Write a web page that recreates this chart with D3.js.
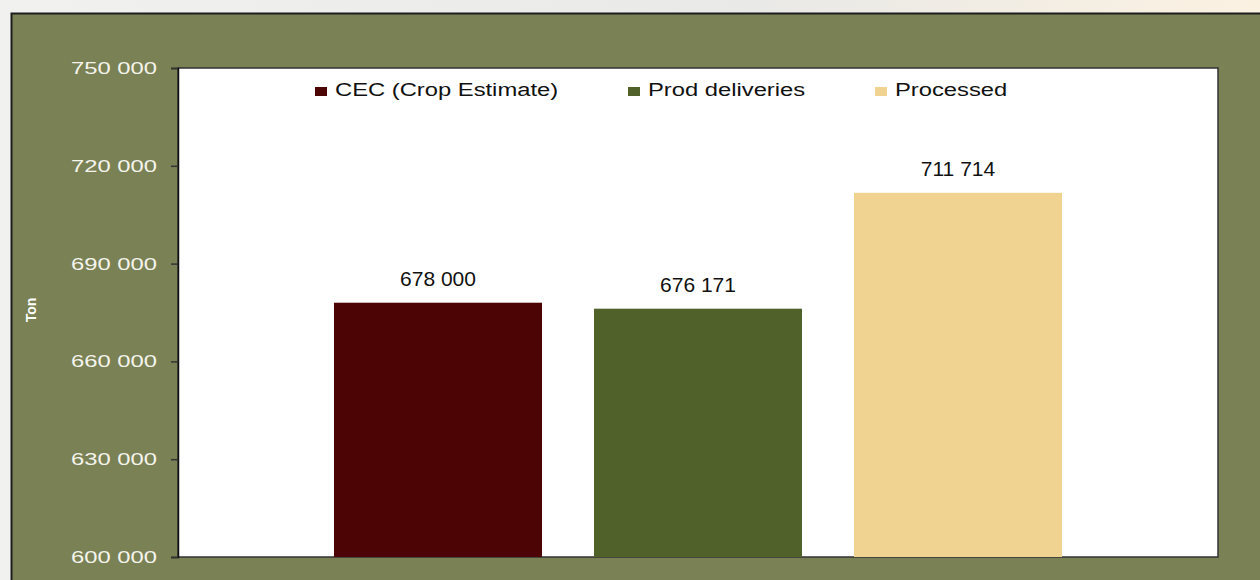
<!DOCTYPE html>
<html>
<head>
<meta charset="utf-8">
<script src="https://cdn.jsdelivr.net/npm/d3@7"></script>
<style>
  body { margin: 0; background: #eeeeec; }
  svg { display: block; }
</style>
</head>
<body>
<div id="chart"></div>
<script>
// data
const series = ["CEC (Crop Estimate)", "Prod deliveries", "Processed"];
const values = [678000, 676171, 711714];
const colors = ["#4d0405", "#50622a", "#f0d390"];
const yTicks = [600000, 630000, 660000, 690000, 720000, 750000];

const width = 1260;
const height = 580;
const plot = {left: 178, top: 68, right: 1218, bottom: 557};

const svg = d3.select("#chart")
  .append("svg")
    .attr("width", width)
    .attr("height", height);

// faded backdrop behind the frame
const grad = svg.append("defs").append("linearGradient")
  .attr("id", "bg")
  .attr("x1", "0").attr("x2", "1").attr("y1", "0").attr("y2", "0");
grad.append("stop").attr("offset", "0").attr("stop-color", "#f1f1ef");
grad.append("stop").attr("offset", "0.6").attr("stop-color", "#e9e9e7");
grad.append("stop").attr("offset", "1").attr("stop-color", "#fbf1e1");

svg.append("rect")
  .attr("width", width)
  .attr("height", height)
  .attr("fill", "url(#bg)");

// olive frame
svg.append("rect")
  .attr("x", 11.5)
  .attr("y", 13.5)
  .attr("width", width + 20)
  .attr("height", height + 20)
  .attr("fill", "#7a8155")
  .attr("stroke", "#1c1c1c")
  .attr("stroke-width", 2);

// plot area
svg.append("rect")
  .attr("x", plot.left)
  .attr("y", plot.top)
  .attr("width", plot.right - plot.left)
  .attr("height", plot.bottom - plot.top)
  .attr("fill", "#ffffff")
  .attr("stroke", "#333333")
  .attr("stroke-width", 1.5);

const fmt = d3.formatLocale({decimal: ",", thousands: " ", grouping: [3], currency: ["", ""]}).format(",d");

const y = d3.scaleLinear()
  .domain([600000, 750000])
  .range([plot.bottom, plot.top]);

// one category, three series side by side (gap 150%, overlap -25%)
const x = d3.scaleBand()
  .domain(series)
  .range([plot.left, plot.right])
  .paddingInner(0.2)
  .paddingOuter(0.6);

// stretch text horizontally like the original render
function stretch(sel, k) {
  sel.each(function() {
    const w = this.getComputedTextLength();
    d3.select(this)
      .attr("textLength", w * k)
      .attr("lengthAdjust", "spacingAndGlyphs");
  });
}

// y axis
const yAxis = svg.append("g")
  .attr("transform", `translate(${plot.left},0)`)
  .call(d3.axisLeft(y).tickValues(yTicks).tickFormat(fmt).tickSize(7).tickPadding(14));

yAxis.select(".domain").attr("stroke", "#111").attr("stroke-width", 1.5);
yAxis.selectAll(".tick line").attr("stroke", "#333").attr("stroke-width", 1.5);
yAxis.selectAll(".tick text")
  .attr("fill", "#f4f4ec")
  .style("font-family", "'Liberation Sans', Arial, sans-serif")
  .style("font-size", "17px")
  .call(stretch, 1.4);

// bars
svg.append("g")
  .selectAll("rect")
  .data(series)
  .join("rect")
    .attr("x", d => x(d))
    .attr("y", (d, i) => y(values[i]))
    .attr("width", x.bandwidth())
    .attr("height", (d, i) => y(600000) - y(values[i]))
    .attr("fill", (d, i) => colors[i]);

// value labels
svg.append("g")
  .selectAll("text")
  .data(series)
  .join("text")
    .attr("x", d => x(d) + x.bandwidth() / 2)
    .attr("y", (d, i) => y(values[i]) - 17)
    .attr("text-anchor", "middle")
    .style("font-family", "'Liberation Sans', Arial, sans-serif")
    .style("font-size", "21px")
    .attr("fill", "#111")
    .text((d, i) => fmt(values[i]));

// legend
const legendX = [315, 628, 875];
const legend = svg.append("g")
  .selectAll("g")
  .data(series)
  .join("g")
    .attr("transform", (d, i) => `translate(${legendX[i]},0)`);

legend.append("rect")
  .attr("x", 0)
  .attr("y", 87)
  .attr("width", 12)
  .attr("height", 9)
  .attr("fill", (d, i) => colors[i]);

legend.append("text")
  .attr("x", 20)
  .attr("y", 96)
  .style("font-family", "'Liberation Sans', Arial, sans-serif")
  .style("font-size", "18px")
  .attr("fill", "#111")
  .text(d => d)
  .call(stretch, 1.32);

// axis title
svg.append("text")
  .attr("transform", "translate(36,310) rotate(-90)")
  .attr("text-anchor", "middle")
  .style("font-family", "'Liberation Sans', Arial, sans-serif")
  .style("font-size", "14px")
  .style("font-weight", "bold")
  .attr("fill", "#ffffff")
  .text("Ton");
</script>
</body>
</html>
